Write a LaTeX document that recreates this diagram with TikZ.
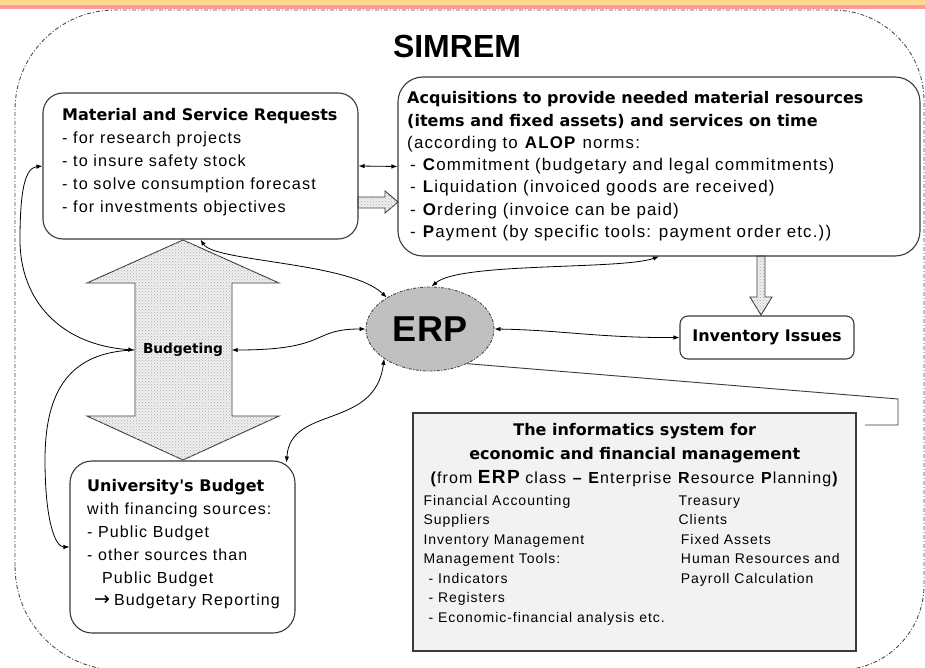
\documentclass[tikz,border=0pt]{standalone}
\usepackage{fontspec}
\setmainfont{Liberation Sans}[LetterSpace=7]
\newfontfamily\dvfont{DejaVu Sans}
\newfontfamily\arfont{Liberation Sans}
\usetikzlibrary{shapes.geometric,arrows.meta,patterns}
\definecolor{boxline}{HTML}{3A3A3A}
\definecolor{erpfill}{HTML}{C0C0C0}
\definecolor{infofill}{HTML}{F2F2F2}
\definecolor{topyellow}{HTML}{FFD98E}
\definecolor{toppink}{HTML}{FF9A9A}
\definecolor{hatchfill}{HTML}{F0F0F0}
\begin{document}
\begin{tikzpicture}[x=1pt,y=-1pt,
  >={Latex[length=6pt,width=4.5pt]},
  box/.style={draw=boxline, line width=1.1pt, rounded corners=20pt, inner sep=0pt},
  txt/.style={anchor=north west, inner sep=0pt, align=left},
  conn/.style={line width=0.8pt, black},
  hatch/.style={draw=boxline, line width=0.9pt, fill=hatchfill,
    postaction={pattern=crosshatch dots, pattern color=gray!65}},
  outer/.style={draw=gray!60!black, line width=0.9pt, dash pattern=on 4pt off 2pt on 1pt off 2pt}
]
\useasboundingbox (0,0) rectangle (925,668);
\fill[white] (0,0) rectangle (925,668);
% top band
\fill[topyellow] (0,0) rectangle (925,5);
\fill[toppink] (0,5) rectangle (925,9);
% outer boundary
\draw[outer] (15,566) -- (15,110) arc[start angle=180, end angle=270, radius=100]
  -- (833,10) arc[start angle=270, end angle=360, radius=91]
  -- (924,585) arc[start angle=0, end angle=90, radius=85]
  -- (119,670) arc[start angle=90, end angle=180, radius=104] -- cycle;
% title
\node[inner sep=0pt, font=\arfont\bfseries\fontsize{32}{36}\selectfont] (simrem) at (457,46.5) {SIMREM};

% block arrows
\path[hatch] (183,240) -- (279,283) -- (232,283) -- (232,416) -- (279,416) -- (183,460)
  -- (87,416) -- (135,416) -- (135,283) -- (87,283) -- cycle;
\path[hatch] (358,197) -- (385,197) -- (385,191) -- (398,202) -- (385,213) -- (385,208) -- (358,208) -- cycle;
\path[hatch] (757,256) -- (757,297) -- (750,297) -- (761,315) -- (772,297) -- (765,297) -- (765,256) -- cycle;

% boxes
\node[box, minimum width=315pt, minimum height=146pt] (mat) at (200.5,166) {};
\node[box, rounded corners=25pt, minimum width=522pt, minimum height=179pt] (acq) at (659,166.5) {};
\node[box, rounded corners=22pt, minimum width=225pt, minimum height=172pt] (univ) at (182.5,547) {};
\node[box, rounded corners=8pt, minimum width=174pt, minimum height=43pt,
  font=\dvfont\bfseries\fontsize{16}{18}\selectfont] (inv) at (767,337.5) {Inventory Issues};
\node[draw=boxline, line width=1.1pt, fill=infofill, inner sep=0pt,
  minimum width=443pt, minimum height=238pt] (info) at (634.5,532) {};
\node[ellipse, draw=gray!55!black, line width=0.9pt, dash pattern=on 3pt off 1.5pt on 1pt off 1.5pt,
  fill=erpfill, minimum width=128pt, minimum height=84pt, inner sep=0pt,
  font=\arfont\bfseries\fontsize{36}{40}\selectfont] (erp) at (430,329) {ERP};
\node[inner sep=0pt, minimum width=97pt, font=\dvfont\bfseries\fontsize{13.7}{16}\selectfont] (budg) at (183,350) {Budgeting};

% texts
\node[txt, font=\fontsize{16.2}{22.8}\selectfont] (matT) at (62,107.7)
 {\rule{0pt}{13pt}{\dvfont\bfseries\fontsize{16}{22.8}\selectfont Material and Service Requests}\\- for research projects\\- to insure safety stock\\- to solve consumption forecast\\- for investments objectives};
\node[txt, font=\fontsize{16.9}{22.3}\selectfont] (acqT) at (407,90.5)
 {\rule{0pt}{13pt}{\dvfont\bfseries\fontsize{16}{22.3}\selectfont Acquisitions to provide needed material resources}\\
  {\dvfont\bfseries\fontsize{16}{22.3}\selectfont (items and fixed assets) and services on time}\\
  (according to \textbf{ALOP} norms:\\
  \hspace{3pt}- \textbf{C}ommitment (budgetary and legal commitments)\\
  \hspace{3pt}- \textbf{L}iquidation (invoiced goods are received)\\
  \hspace{3pt}- \textbf{O}rdering (invoice can be paid)\\
  \hspace{3pt}- \textbf{P}ayment (by specific tools: payment order etc.))};
\node[txt, font=\fontsize{16}{22.8}\selectfont] (univT) at (87,478.7)
 {\rule{0pt}{13pt}{\dvfont\bfseries University's Budget}\\with financing sources:\\- Public Budget\\- other sources than\\\hspace{15pt}Public Budget\\\hspace{7pt}{\dvfont\fontsize{19}{22}\selectfont →}\hspace{4pt}Budgetary Reporting};
\node[anchor=north, inner sep=0pt, align=center, font=\fontsize{16}{24}\selectfont] (infoT) at (634.7,422)
 {\rule{0pt}{13pt}{\dvfont\bfseries The informatics system for}\\{\dvfont\bfseries economic and financial management}\\
  \textbf{(}from {\bfseries\fontsize{19}{24}\selectfont ERP} class \textbf{–} \textbf{E}nterprise \textbf{R}esource \textbf{P}lanning\textbf{)}};
\node[txt, font=\fontsize{14}{19.5}\selectfont] (infoL) at (423.3,493)
 {\rule{0pt}{12pt}Financial Accounting\\Suppliers\\Inventory Management\\Management Tools:\\\hspace{5pt}- Indicators\\\hspace{5pt}- Registers\\\hspace{5pt}- Economic-financial analysis etc.};
\node[txt, font=\fontsize{14}{19.5}\selectfont] (infoR) at (678.3,493)
 {\rule{0pt}{12pt}Treasury\\Clients\\\hspace{2.4pt}Fixed Assets\\\hspace{2.4pt}Human Resources and\\\hspace{2.4pt}Payroll Calculation};

% connectors
\draw[conn,<->] (mat.east) -- (acq.west);
\draw[conn,<->] (mat.west) .. controls (25,168) and (20,190) .. (20,240)
  .. controls (20,300) and (60,345) .. (budg.west);
\draw[conn,->] (budg.west) .. controls (70,352) and (45,390) .. (45,460)
  .. controls (45,520) and (55,547) .. (univ.west);
\draw[conn,<->] (mat.south) .. controls (215,262) and (350,262) .. (erp.144);
\draw[conn,<->] (acq.south) .. controls (620,270) and (460,262) .. (erp.88);
\draw[conn,<->] (erp.east) .. controls (560,330) and (600,338) .. (inv.west);
\draw[conn,<->] (budg.east) .. controls (330,350) and (310,329) .. (erp.west);
\draw[conn,<->] (erp.213) .. controls (375,430) and (290,405) .. ([xshift=-9pt,yshift=-2pt]univ.north east);
\coordinate (brk) at (865,425);
\draw[line width=0.9pt, boxline] (erp.317) -- (898,399) -- (898,425) -- (brk);
\end{tikzpicture}
\end{document}
